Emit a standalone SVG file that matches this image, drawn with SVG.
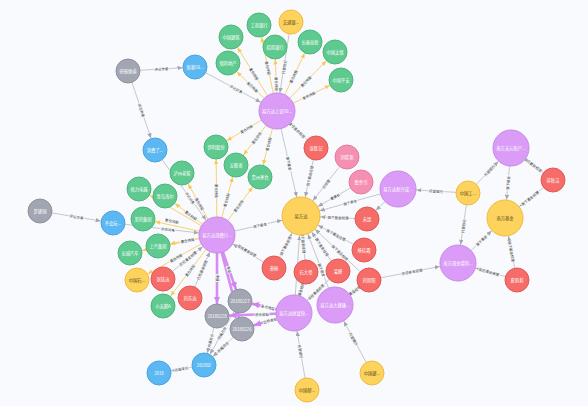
<svg xmlns="http://www.w3.org/2000/svg" width="588" height="406" viewBox="0 0 588 406">
<style>
.t{font-family:"Noto Sans CJK SC","Noto Sans",sans-serif;font-size:4.3px;fill:#fff;text-anchor:middle;dominant-baseline:central}
.td{fill:#5b4a1e}
.el{font-family:"Noto Sans CJK SC","Noto Sans",sans-serif;font-size:3.5px;fill:#333;text-anchor:middle;dominant-baseline:central;paint-order:stroke;stroke:#F8FAFD;stroke-width:1.3px}
.eg{stroke:#AEB0B7;stroke-width:0.7;fill:none}
.ey{stroke:#F9D070;stroke-width:1;fill:none}
.ep{stroke:#D58DF2;stroke-width:2.6;fill:none}
.pu{fill:#DA9CF6;stroke:#C78AEA;stroke-width:1}
.gr{fill:#5FCA8F;stroke:#4DB57C;stroke-width:1}
.ye{fill:#FDD35E;stroke:#EEBB40;stroke-width:1}
.bl{fill:#5CB8F2;stroke:#4AA4DF;stroke-width:1}
.ga{fill:#A2A6B2;stroke:#8F939F;stroke-width:1}
.re{fill:#F66C69;stroke:#E35855;stroke-width:1}
.pk{fill:#F590B2;stroke:#E27C9E;stroke-width:1}
</style>
<defs>
<marker id="g12" markerUnits="userSpaceOnUse" markerWidth="6" markerHeight="5" refX="17.5" refY="2.2" orient="auto"><path d="M0,0 L5,2.2 L0,4.4 z" fill="#A4A6AD"/></marker>
<marker id="g18" markerUnits="userSpaceOnUse" markerWidth="6" markerHeight="5" refX="23.5" refY="2.2" orient="auto"><path d="M0,0 L5,2.2 L0,4.4 z" fill="#A4A6AD"/></marker>
<marker id="g19" markerUnits="userSpaceOnUse" markerWidth="6" markerHeight="5" refX="24.5" refY="2.2" orient="auto"><path d="M0,0 L5,2.2 L0,4.4 z" fill="#A4A6AD"/></marker>
<marker id="y12" markerUnits="userSpaceOnUse" markerWidth="6" markerHeight="5" refX="17.5" refY="2.2" orient="auto"><path d="M0,0 L5,2.2 L0,4.4 z" fill="#F7C955"/></marker>
<marker id="p12" markerUnits="userSpaceOnUse" markerWidth="8" markerHeight="7" refX="19.5" refY="3.2" orient="auto"><path d="M0,0 L7,3.2 L0,6.4 z" fill="#D283F2"/></marker>
</defs>
<rect width="588" height="406" fill="#F8FAFD"/>
<g id="edges">
<line class="eg" x1="128" y1="71" x2="195" y2="67" marker-end="url(#g12)"/>
<line class="eg" x1="128" y1="71" x2="155" y2="150" marker-end="url(#g12)"/>
<line class="eg" x1="195" y1="67" x2="277" y2="111" marker-end="url(#g18)"/>
<line class="eg" x1="155" y1="150" x2="217" y2="235" marker-end="url(#g18)"/>
<line class="eg" x1="40" y1="211" x2="113" y2="223" marker-end="url(#g12)"/>
<line class="eg" x1="113" y1="223" x2="217" y2="235" marker-end="url(#g18)"/>
<line class="eg" x1="291" y1="22" x2="277" y2="111" marker-end="url(#g18)"/>
<line class="eg" x1="277" y1="111" x2="301" y2="216" marker-end="url(#g19)"/>
<line class="eg" x1="217" y1="235" x2="301" y2="216" marker-end="url(#g19)"/>
<line class="eg" x1="398" y1="189" x2="301" y2="216" marker-end="url(#g19)"/>
<line class="eg" x1="294" y1="313" x2="301" y2="216" marker-end="url(#g19)"/>
<line class="eg" x1="335" y1="305" x2="301" y2="216" marker-end="url(#g19)"/>
<line class="eg" x1="316" y1="148" x2="301" y2="216" marker-end="url(#g19)"/>
<line class="eg" x1="347" y1="157" x2="301" y2="216" marker-end="url(#g19)"/>
<line class="eg" x1="361" y1="182" x2="301" y2="216" marker-end="url(#g19)"/>
<line class="eg" x1="367" y1="219" x2="301" y2="216" marker-end="url(#g19)"/>
<line class="eg" x1="364" y1="250" x2="301" y2="216" marker-end="url(#g19)"/>
<line class="eg" x1="274" y1="268" x2="301" y2="216" marker-end="url(#g19)"/>
<line class="eg" x1="306" y1="272" x2="301" y2="216" marker-end="url(#g19)"/>
<line class="eg" x1="338" y1="271" x2="301" y2="216" marker-end="url(#g19)"/>
<line class="eg" x1="369" y1="280" x2="301" y2="216" marker-end="url(#g19)"/>
<line class="eg" x1="316" y1="148" x2="277" y2="111" marker-end="url(#g18)"/>
<line class="eg" x1="398" y1="189" x2="367" y2="219" marker-end="url(#g12)"/>
<line class="eg" x1="274" y1="268" x2="217" y2="235" marker-end="url(#g18)"/>
<line class="eg" x1="163" y1="279" x2="217" y2="235" marker-end="url(#g18)"/>
<line class="eg" x1="190" y1="298" x2="217" y2="235" marker-end="url(#g18)"/>
<line class="eg" x1="468" y1="193" x2="398" y2="189" marker-end="url(#g18)"/>
<line class="eg" x1="468" y1="193" x2="511" y2="148" marker-end="url(#g18)"/>
<line class="eg" x1="468" y1="193" x2="458" y2="263" marker-end="url(#g18)"/>
<line class="eg" x1="511" y1="148" x2="505" y2="218" marker-end="url(#g18)"/>
<line class="eg" x1="458" y1="263" x2="505" y2="218" marker-end="url(#g18)"/>
<line class="eg" x1="553" y1="180" x2="511" y2="148" marker-end="url(#g18)"/>
<line class="eg" x1="553" y1="180" x2="505" y2="218" marker-end="url(#g18)"/>
<line class="eg" x1="517" y1="280" x2="505" y2="218" marker-end="url(#g18)"/>
<line class="eg" x1="517" y1="280" x2="458" y2="263" marker-end="url(#g18)"/>
<line class="eg" x1="369" y1="280" x2="458" y2="263" marker-end="url(#g18)"/>
<line class="eg" x1="307" y1="390" x2="294" y2="313" marker-end="url(#g18)"/>
<line class="eg" x1="372" y1="373" x2="335" y2="305" marker-end="url(#g18)"/>
<line class="eg" x1="306" y1="272" x2="294" y2="313" marker-end="url(#g18)"/>
<line class="eg" x1="338" y1="271" x2="294" y2="313" marker-end="url(#g18)"/>
<line class="eg" x1="369" y1="280" x2="335" y2="305" marker-end="url(#g18)"/>
<line class="eg" x1="240" y1="301" x2="204" y2="365" marker-end="url(#g12)"/>
<line class="eg" x1="217" y1="316" x2="204" y2="365" marker-end="url(#g12)"/>
<line class="eg" x1="242" y1="329" x2="204" y2="365" marker-end="url(#g12)"/>
<line class="eg" x1="204" y1="365" x2="159" y2="373" marker-end="url(#g12)"/>
<line class="ey" x1="277" y1="111" x2="231" y2="37" marker-end="url(#y12)"/>
<line class="ey" x1="277" y1="111" x2="259" y2="25" marker-end="url(#y12)"/>
<line class="ey" x1="277" y1="111" x2="275" y2="47" marker-end="url(#y12)"/>
<line class="ey" x1="277" y1="111" x2="228" y2="63" marker-end="url(#y12)"/>
<line class="ey" x1="277" y1="111" x2="310" y2="42" marker-end="url(#y12)"/>
<line class="ey" x1="277" y1="111" x2="335" y2="52" marker-end="url(#y12)"/>
<line class="ey" x1="277" y1="111" x2="341" y2="80" marker-end="url(#y12)"/>
<line class="ey" x1="277" y1="111" x2="216" y2="147" marker-end="url(#y12)"/>
<line class="ey" x1="277" y1="111" x2="236" y2="165" marker-end="url(#y12)"/>
<line class="ey" x1="277" y1="111" x2="260" y2="177" marker-end="url(#y12)"/>
<line class="ey" x1="217" y1="235" x2="216" y2="147" marker-end="url(#y12)"/>
<line class="ey" x1="217" y1="235" x2="236" y2="165" marker-end="url(#y12)"/>
<line class="ey" x1="217" y1="235" x2="260" y2="177" marker-end="url(#y12)"/>
<line class="ey" x1="217" y1="235" x2="182" y2="173" marker-end="url(#y12)"/>
<line class="ey" x1="217" y1="235" x2="165" y2="196" marker-end="url(#y12)"/>
<line class="ey" x1="217" y1="235" x2="139" y2="189" marker-end="url(#y12)"/>
<line class="ey" x1="217" y1="235" x2="143" y2="219" marker-end="url(#y12)"/>
<line class="ey" x1="217" y1="235" x2="158" y2="246" marker-end="url(#y12)"/>
<line class="ey" x1="217" y1="235" x2="130" y2="253" marker-end="url(#y12)"/>
<line class="ey" x1="217" y1="235" x2="137" y2="280" marker-end="url(#y12)"/>
<line class="ey" x1="217" y1="235" x2="163" y2="306" marker-end="url(#y12)"/>
<line class="ep" x1="217" y1="235" x2="217" y2="316" marker-end="url(#p12)"/>
<line class="ep" x1="217" y1="235" x2="240" y2="301" marker-end="url(#p12)"/>
<line class="ep" x1="217" y1="235" x2="242" y2="329" marker-end="url(#p12)"/>
<line class="ep" x1="294" y1="313" x2="240" y2="301" marker-end="url(#p12)"/>
<line class="ep" x1="294" y1="313" x2="217" y2="316" marker-end="url(#p12)"/>
<line class="ep" x1="294" y1="313" x2="242" y2="329" marker-end="url(#p12)"/>
<text class="el" transform="translate(161.5,69) rotate(-3.4)">评论作者</text>
<text class="el" transform="translate(141.5,110.5) rotate(71.1)">评论作者</text>
<text class="el" transform="translate(236,89) rotate(28.2)">评论对象</text>
<text class="el" transform="translate(190,198) rotate(53.9)">评论对象</text>
<text class="el" transform="translate(76.5,217) rotate(9.3)">评论作者</text>
<text class="el" transform="translate(168,229.5) rotate(6.6)">评论对象</text>
<text class="el" transform="translate(284.2,67) rotate(-81.1)">托管银行</text>
<text class="el" transform="translate(289,163.5) rotate(77.1)">旗下基金</text>
<text class="el" transform="translate(260,225.3) rotate(-12.7)">旗下基金</text>
<text class="el" transform="translate(350,202.4) rotate(-15.6)">旗下基金</text>
<text class="el" transform="translate(321.6,270) rotate(69.1)">旗下基金</text>
<text class="el" transform="translate(309.8,176) rotate(-77.6)">旗下基金经理</text>
<text class="el" transform="translate(326,184) rotate(-52.1)">总经理</text>
<text class="el" transform="translate(335,196.7) rotate(-29.5)">董事长</text>
<text class="el" transform="translate(338,217.7) rotate(2.6)">旗下基金经理</text>
<text class="el" transform="translate(336,234.9) rotate(28.4)">旗下基金经理</text>
<text class="el" transform="translate(285.5,245.8) rotate(-62.6)">旗下基金经理</text>
<text class="el" transform="translate(303.4,243) rotate(84.9)">旗下基金经理</text>
<text class="el" transform="translate(322,247) rotate(56.1)">旗下基金经理</text>
<text class="el" transform="translate(340,252.7) rotate(43.3)">旗下基金经理</text>
<text class="el" transform="translate(297,130) rotate(43.5)">现任基金经理</text>
<text class="el" transform="translate(247,250.6) rotate(30.1)">现任基金经理</text>
<text class="el" transform="translate(188,258.6) rotate(-39.2)">历任基金经理</text>
<text class="el" transform="translate(202,270) rotate(-66.8)">历任基金经理</text>
<text class="el" transform="translate(436,191.2) rotate(3.3)">托管银行</text>
<text class="el" transform="translate(489.5,170.5) rotate(-46.3)">托管银行</text>
<text class="el" transform="translate(463.5,226) rotate(-81.9)">托管银行</text>
<text class="el" transform="translate(508,183) rotate(-85.1)">旗下基金</text>
<text class="el" transform="translate(481.5,240.5) rotate(-43.8)">旗下基金</text>
<text class="el" transform="translate(533,164.8) rotate(37.3)">现任基金经理</text>
<text class="el" transform="translate(530,198.2) rotate(-38.4)">旗下基金经理</text>
<text class="el" transform="translate(511.5,251.5) rotate(79)">旗下基金经理</text>
<text class="el" transform="translate(489,271.9) rotate(16.1)">现任基金经理</text>
<text class="el" transform="translate(412,271.8) rotate(-10.8)">历任基金经理</text>
<text class="el" transform="translate(300.5,351.5) rotate(80.4)">托管银行</text>
<text class="el" transform="translate(353.5,339) rotate(61.4)">托管银行</text>
<text class="el" transform="translate(300,292.5) rotate(-73.7)">现任基金经理</text>
<text class="el" transform="translate(316,292) rotate(-43.7)">现任基金经理</text>
<text class="el" transform="translate(352,292.5) rotate(-36.3)">历任基金经理</text>
<text class="el" transform="translate(222,333) rotate(-60.6)">所属月份</text>
<text class="el" transform="translate(210.5,340.5) rotate(-75.1)">所属月份</text>
<text class="el" transform="translate(223,347) rotate(-43.5)">所属月份</text>
<text class="el" transform="translate(181.5,369) rotate(-10.1)">所属年份</text>
<text class="el" transform="translate(254,74) rotate(58.1)">重仓持股</text>
<text class="el" transform="translate(268,68) rotate(78.2)">重仓持股</text>
<text class="el" transform="translate(276.5,84) rotate(88.2)">重仓持股</text>
<text class="el" transform="translate(252.5,87) rotate(44.4)">重仓持股</text>
<text class="el" transform="translate(293.5,76.5) rotate(-64.4)">重仓持股</text>
<text class="el" transform="translate(306,81.5) rotate(-45.5)">重仓持股</text>
<text class="el" transform="translate(309,95.5) rotate(-25.8)">重仓持股</text>
<text class="el" transform="translate(246.5,129) rotate(-30.5)">重仓持股</text>
<text class="el" transform="translate(256.5,138) rotate(-52.8)">重仓持股</text>
<text class="el" transform="translate(268.5,144) rotate(-75.6)">重仓持股</text>
<text class="el" transform="translate(216.5,191) rotate(89.3)">重仓持股</text>
<text class="el" transform="translate(226.5,200) rotate(-74.8)">重仓持股</text>
<text class="el" transform="translate(238.5,206) rotate(-53.4)">重仓持股</text>
<text class="el" transform="translate(199.5,204) rotate(60.6)">重仓持股</text>
<text class="el" transform="translate(191,215.5) rotate(36.9)">重仓持股</text>
<text class="el" transform="translate(172,221) rotate(12.2)">重仓持股</text>
<text class="el" transform="translate(187.5,240.5) rotate(-10.6)">重仓持股</text>
<text class="el" transform="translate(176,258) rotate(-29.4)">重仓持股</text>
<text class="el" transform="translate(190,270.5) rotate(-52.7)">重仓持股</text>
<text class="el" transform="translate(217,278) rotate(90)">净值</text>
<text class="el" transform="translate(229,269.4) rotate(70.8)">净值</text>
<text class="el" transform="translate(268,307.2) rotate(12.5)">货币收益</text>
<text class="el" transform="translate(262,314.5) rotate(-2.2)">货币收益</text>
<text class="el" transform="translate(270,320.6) rotate(-17.1)">货币收益</text>
</g>
<g id="n-yanbao"><circle class="ga" cx="128" cy="71" r="12"/><text class="t" x="128" y="71">研报频道</text></g>
<g id="n-xinji50"><circle class="bl" cx="195" cy="67" r="12"/><text class="t" x="195" y="67">新基50...</text></g>
<g id="n-xiaofeile"><circle class="bl" cx="155" cy="150" r="12"/><text class="t" x="155" y="150">消费了...</text></g>
<g id="n-luojianguo"><circle class="ga" cx="40" cy="211" r="12"/><text class="t" x="40" y="211">罗建国</text></g>
<g id="n-buhuiwan"><circle class="bl" cx="113" cy="223" r="12"/><text class="t" x="113" y="223">不会玩...</text></g>
<g id="n-sz50"><circle class="pu" cx="277" cy="111" r="18"/><text class="t" x="277" y="111">易方达上证50...</text></g>
<g id="n-zgjz"><circle class="gr" cx="231" cy="37" r="12"/><text class="t" x="231" y="37">中国建筑</text></g>
<g id="n-gsyh"><circle class="gr" cx="259" cy="25" r="12"/><text class="t" x="259" y="25">工商银行</text></g>
<g id="n-jtyh"><circle class="ye" cx="291" cy="22" r="12"/><text class="t td" x="291" y="22">交通银...</text></g>
<g id="n-zsyh"><circle class="gr" cx="275" cy="47" r="12"/><text class="t" x="275" y="47">招商银行</text></g>
<g id="n-bldc"><circle class="gr" cx="228" cy="63" r="12"/><text class="t" x="228" y="63">保利地产</text></g>
<g id="n-ccgx"><circle class="gr" cx="310" cy="42" r="12"/><text class="t" x="310" y="42">长春高新</text></g>
<g id="n-zgtb"><circle class="gr" cx="335" cy="52" r="12"/><text class="t" x="335" y="52">中国太保</text></g>
<g id="n-zgpa"><circle class="gr" cx="341" cy="80" r="12"/><text class="t" x="341" y="80">中国平安</text></g>
<g id="n-ylgf"><circle class="gr" cx="216" cy="147" r="12"/><text class="t" x="216" y="147">伊利股份</text></g>
<g id="n-wly"><circle class="gr" cx="236" cy="165" r="12"/><text class="t" x="236" y="165">五粮液</text></g>
<g id="n-gzmt"><circle class="gr" cx="260" cy="177" r="12"/><text class="t" x="260" y="177">贵州茅台</text></g>
<g id="n-lzlj"><circle class="gr" cx="182" cy="173" r="12"/><text class="t" x="182" y="173">泸州老窖</text></g>
<g id="n-gldq"><circle class="gr" cx="139" cy="189" r="12"/><text class="t" x="139" y="189">格力电器</text></g>
<g id="n-qdhe"><circle class="gr" cx="165" cy="196" r="12"/><text class="t" x="165" y="196">青岛海尔</text></g>
<g id="n-mdjt"><circle class="gr" cx="143" cy="219" r="12"/><text class="t" x="143" y="219">美的集团</text></g>
<g id="n-sqjt"><circle class="gr" cx="158" cy="246" r="12"/><text class="t" x="158" y="246">上汽集团</text></g>
<g id="n-ccqc"><circle class="gr" cx="130" cy="253" r="12"/><text class="t" x="130" y="253">长城汽车</text></g>
<g id="n-zgs"><circle class="ye" cx="137" cy="280" r="12"/><text class="t td" x="137" y="280">中国石...</text></g>
<g id="n-xfh"><circle class="pu" cx="217" cy="235" r="18"/><text class="t" x="217" y="235">易方达消费行...</text></g>
<g id="n-zld"><circle class="re" cx="163" cy="279" r="12"/><text class="t" x="163" y="279">张陆达</text></g>
<g id="n-lfd"><circle class="re" cx="190" cy="298" r="12"/><text class="t" x="190" y="298">刘芳达</text></g>
<g id="n-xte"><circle class="gr" cx="163" cy="306" r="12"/><text class="t" x="163" y="306">小天鹅A</text></g>
<g id="n-d0227"><circle class="ga" cx="240" cy="301" r="12"/><text class="t" x="240" y="301">20180227</text></g>
<g id="n-d0228"><circle class="ga" cx="217" cy="316" r="12"/><text class="t" x="217" y="316">20180228</text></g>
<g id="n-d0226"><circle class="ga" cx="242" cy="329" r="12"/><text class="t" x="242" y="329">20180226</text></g>
<g id="n-m201802"><circle class="bl" cx="204" cy="365" r="12"/><text class="t" x="204" y="365">201802</text></g>
<g id="n-y2018"><circle class="bl" cx="159" cy="373" r="12"/><text class="t" x="159" y="373">2018</text></g>
<g id="n-yfd"><circle class="ye" cx="301" cy="216" r="19"/><text class="t td" x="301" y="216">易方达</text></g>
<g id="n-zsj"><circle class="re" cx="316" cy="148" r="12"/><text class="t" x="316" y="148">张胜记</text></g>
<g id="n-lxy"><circle class="pk" cx="347" cy="157" r="12"/><text class="t" x="347" y="157">刘晓艳</text></g>
<g id="n-zyy"><circle class="pk" cx="361" cy="182" r="12"/><text class="t" x="361" y="182">詹余引</text></g>
<g id="n-sk"><circle class="re" cx="367" cy="219" r="12"/><text class="t" x="367" y="219">宋昆</text></g>
<g id="n-ygx"><circle class="re" cx="364" cy="250" r="12"/><text class="t" x="364" y="250">杨桂霞</text></g>
<g id="n-xn"><circle class="re" cx="274" cy="268" r="12"/><text class="t" x="274" y="268">萧楠</text></g>
<g id="n-sdy"><circle class="re" cx="306" cy="272" r="12"/><text class="t" x="306" y="272">石大怿</text></g>
<g id="n-lf"><circle class="re" cx="338" cy="271" r="12"/><text class="t" x="338" y="271">梁峰</text></g>
<g id="n-lzy"><circle class="re" cx="369" cy="280" r="12"/><text class="t" x="369" y="280">刘朝阳</text></g>
<g id="n-cfk"><circle class="pu" cx="294" cy="313" r="18"/><text class="t" x="294" y="313">易方达财富快...</text></g>
<g id="n-djk"><circle class="pu" cx="335" cy="305" r="18"/><text class="t" x="335" y="305">易方达大健康...</text></g>
<g id="n-zgj"><circle class="ye" cx="372" cy="373" r="12"/><text class="t td" x="372" y="373">中国建...</text></g>
<g id="n-zgy"><circle class="ye" cx="307" cy="390" r="12"/><text class="t td" x="307" y="390">中国邮...</text></g>
<g id="n-xxc"><circle class="pu" cx="398" cy="189" r="18"/><text class="t" x="398" y="189">易方达新兴成...</text></g>
<g id="n-zgg"><circle class="ye" cx="468" cy="193" r="12"/><text class="t td" x="468" y="193">中国工...</text></g>
<g id="n-nfty"><circle class="pu" cx="511" cy="148" r="18"/><text class="t" x="511" y="148">南方天元新产...</text></g>
<g id="n-jqj"><circle class="re" cx="553" cy="180" r="12"/><text class="t" x="553" y="180">蒋秋洁</text></g>
<g id="n-nfjj"><circle class="ye" cx="505" cy="218" r="18"/><text class="t td" x="505" y="218">南方基金</text></g>
<g id="n-nfxj"><circle class="pu" cx="458" cy="263" r="18"/><text class="t" x="458" y="263">南方现金增利...</text></g>
<g id="n-xll"><circle class="re" cx="517" cy="280" r="12"/><text class="t" x="517" y="280">夏莉莉</text></g>
</svg>
